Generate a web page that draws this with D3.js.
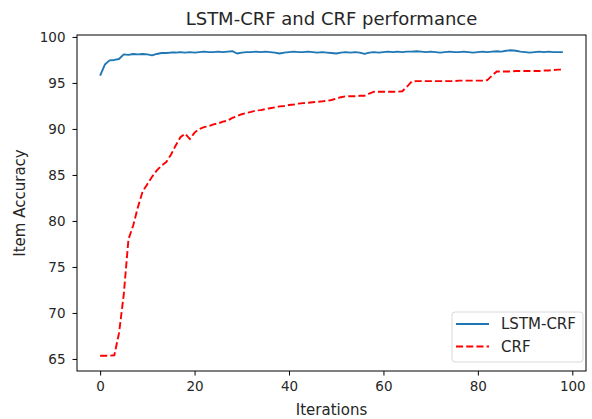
<!DOCTYPE html>
<html lang="en">
  <head>
    <title>LSTM-CRF and CRF performance</title>
    <meta charset="utf-8" />
    <script src="https://d3js.org/d3.v7.min.js"></script>
    <style>
      body { margin: 0; background: #ffffff; }
      text { font-family: "DejaVu Sans", sans-serif; fill: #262626; }
    </style>
  </head>
  <body>
    <svg width="592" height="419" xmlns="http://www.w3.org/2000/svg" id="target"></svg>
    <script>
        // iteration index 0..98
        const lstmCrf = [
          95.8, 97.0, 97.45, 97.5, 97.6, 98.1, 98.05, 98.15, 98.1, 98.15,
          98.1, 98.0, 98.15, 98.25, 98.25, 98.3, 98.3, 98.35, 98.3, 98.35,
          98.3, 98.35, 98.4, 98.35, 98.35, 98.4, 98.35, 98.4, 98.45, 98.2,
          98.3, 98.35, 98.35, 98.4, 98.35, 98.4, 98.35, 98.3, 98.2, 98.3,
          98.35, 98.4, 98.35, 98.35, 98.4, 98.35, 98.3, 98.35, 98.3, 98.25,
          98.2, 98.3, 98.35, 98.3, 98.35, 98.3, 98.15, 98.3, 98.35, 98.3,
          98.35, 98.4, 98.35, 98.4, 98.35, 98.4, 98.4, 98.45, 98.4, 98.35,
          98.4, 98.35, 98.3, 98.35, 98.4, 98.35, 98.35, 98.4, 98.35, 98.3,
          98.35, 98.4, 98.35, 98.4, 98.45, 98.4, 98.5, 98.55, 98.5, 98.4,
          98.35, 98.3, 98.35, 98.4, 98.35, 98.4, 98.35, 98.35, 98.35
        ];
        const crf = [
          65.35, 65.35, 65.35, 65.4, 67.8, 72.0, 78.0, 79.5, 81.5, 83.2,
          84.0, 84.8, 85.5, 86.0, 86.4, 87.2, 88.2, 89.1, 89.5, 88.9,
          89.6, 90.0, 90.2, 90.3, 90.5, 90.6, 90.8, 90.9, 91.2, 91.4,
          91.6, 91.75, 91.85, 92.0, 92.05, 92.15, 92.25, 92.35, 92.45, 92.5,
          92.6, 92.65, 92.75, 92.8, 92.85, 92.9, 92.95, 93.0, 93.05, 93.15,
          93.3, 93.45, 93.55, 93.55, 93.55, 93.6, 93.6, 93.85, 94.05, 94.05,
          94.05, 94.05, 94.05, 94.05, 94.1, 94.6, 95.15, 95.2, 95.2, 95.2,
          95.2, 95.2, 95.2, 95.2, 95.2, 95.2, 95.25, 95.25, 95.25, 95.25,
          95.25, 95.25, 95.3, 95.8, 96.25, 96.25, 96.25, 96.25, 96.3, 96.3,
          96.3, 96.3, 96.3, 96.3, 96.35, 96.35, 96.4, 96.45, 96.45
        ];
        const seriesNames = ["LSTM-CRF", "CRF"];
        const xTicks = [0, 20, 40, 60, 80, 100];
        const yTicks = [65, 70, 75, 80, 85, 90, 95, 100];

        const plot = { left: 77, right: 586, top: 35, bottom: 371 };
        const svg = d3.select("#target");

        // matplotlib style 5% margins
        const n = lstmCrf.length - 1;
        const all = lstmCrf.concat(crf);
        const yMin = d3.min(all), yMax = d3.max(all);
        const yPad = (yMax - yMin) * 0.05;

        const x = d3.scaleLinear()
          .domain([-n * 0.05, n * 1.05])
          .range([plot.left, plot.right]);
        const y = d3.scaleLinear()
          .domain([yMin - yPad, yMax + yPad])
          .range([plot.bottom, plot.top]);

        // axes
        const xAxis = svg.append("g")
          .attr("transform", "translate(0," + plot.bottom + ")")
          .call(d3.axisBottom(x).tickValues(xTicks).tickSize(4.5).tickPadding(6));
        const yAxis = svg.append("g")
          .attr("transform", "translate(" + plot.left + ",0)")
          .call(d3.axisLeft(y).tickValues(yTicks).tickSize(4.5).tickPadding(7));
        [xAxis, yAxis].forEach(a => {
          a.select(".domain").remove();
          a.selectAll("line").attr("stroke", "#000").attr("stroke-width", 1);
          a.selectAll("text")
            .style("font-family", "DejaVu Sans, sans-serif")
            .style("font-size", "13.5px")
            .attr("fill", "#262626");
        });

        const line = d3.line()
          .x((d, i) => x(i))
          .y(d => y(d));

        svg.append("path")
          .datum(lstmCrf)
          .attr("d", line)
          .attr("fill", "none")
          .attr("stroke", "#1f77b4")
          .attr("stroke-width", 1.9)
          .attr("stroke-linejoin", "round");

        svg.append("path")
          .datum(crf)
          .attr("d", line)
          .attr("fill", "none")
          .attr("stroke", "#ff0000")
          .attr("stroke-width", 1.9)
          .attr("stroke-dasharray", "7.1,3.1");

        // frame
        svg.append("rect")
          .attr("x", plot.left)
          .attr("y", plot.top)
          .attr("width", plot.right - plot.left)
          .attr("height", plot.bottom - plot.top)
          .attr("fill", "none")
          .attr("stroke", "#000")
          .attr("stroke-width", 1);

        // titles
        svg.append("text")
          .attr("x", (plot.left + plot.right) / 2)
          .attr("y", 25)
          .attr("text-anchor", "middle")
          .style("font-size", "18px")
          .text("LSTM-CRF and CRF performance");
        svg.append("text")
          .attr("x", (plot.left + plot.right) / 2)
          .attr("y", 415)
          .attr("text-anchor", "middle")
          .style("font-size", "15px")
          .text("Iterations");
        svg.append("text")
          .attr("transform", "translate(25," + ((plot.top + plot.bottom) / 2) + ") rotate(-90)")
          .attr("text-anchor", "middle")
          .style("font-size", "15px")
          .text("Item Accuracy");

        // legend
        const lg = svg.append("g").attr("transform", "translate(452,312)");
        lg.append("rect")
          .attr("width", 131)
          .attr("height", 50)
          .attr("rx", 3)
          .attr("fill", "#ffffff")
          .attr("fill-opacity", 0.8)
          .attr("stroke", "#d9d9d9");
        const entries = lg.selectAll("g.entry")
          .data(seriesNames)
          .enter()
          .append("g")
          .attr("class", "entry")
          .attr("transform", (d, i) => "translate(0," + (12 + i * 22.5) + ")");
        entries.append("line")
          .attr("x1", 4).attr("x2", 37)
          .attr("stroke", (d, i) => i === 0 ? "#1f77b4" : "#ff0000")
          .attr("stroke-width", 1.9)
          .attr("stroke-dasharray", (d, i) => i === 0 ? null : "7.1,3.1");
        entries.append("text")
          .attr("x", 49)
          .attr("y", 5)
          .style("font-size", "15px")
          .text(d => d);
    </script>
  </body>
</html>
